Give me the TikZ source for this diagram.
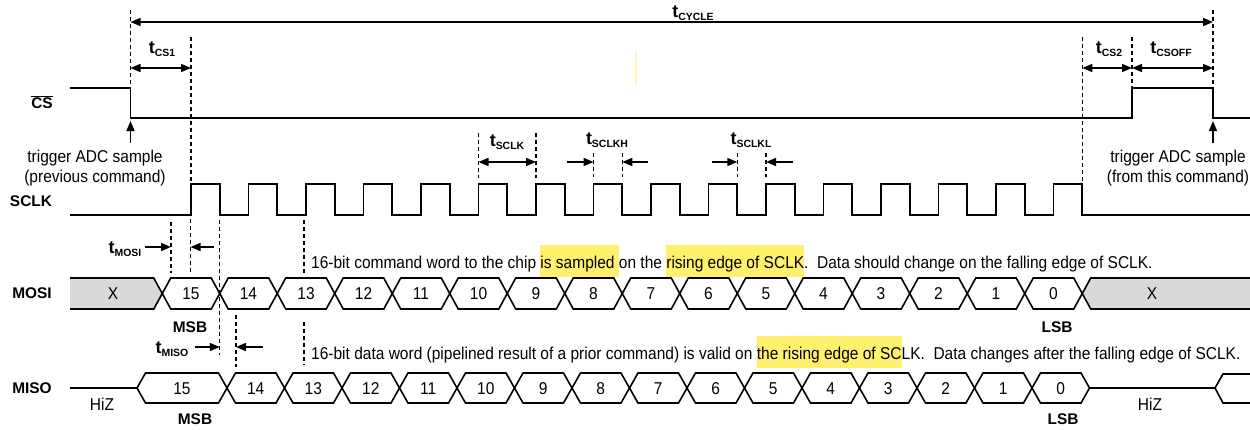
\documentclass[tikz,border=0pt]{standalone}
\usepackage{fontspec}
\setmainfont{Liberation Sans}
\newfontfamily\condf{Liberation Sans}[FakeStretch=0.905]
\usetikzlibrary{arrows.meta}
\definecolor{hly}{RGB}{255,240,110}
\definecolor{busgray}{RGB}{217,217,217}
\definecolor{faintyel}{RGB}{255,246,180}
\newcommand\hlt[1]{\setbox0=\hbox{#1}\rlap{\textcolor{hly}{\rule[-9bp]{\wd0}{32bp}}}\box0}
\newcommand\tlab[1]{\fontsize{18}{18}\selectfont\bfseries t\raisebox{-3.5bp}{\fontsize{10.5}{10.5}\selectfont #1}}
\begin{document}
\begin{tikzpicture}[x=1bp,y=-1bp,
  sig/.style={line width=1.8bp, line join=miter},
  bus/.style={line width=1.6bp, line join=miter},
  dsh/.style={dash pattern=on 4bp off 3bp, line width=1.2bp},
  tip/.style={line width=1.6bp},
  dim/.style={tip, {Triangle[length=10bp,width=8bp]}-{Triangle[length=10bp,width=8bp]}},
  arr/.style={tip, -{Triangle[length=10bp,width=8bp]}},
  txt/.style={font=\condf\fontsize{17.2}{20}\selectfont, inner sep=0},
  lbl/.style={font=\bfseries\fontsize{15.5}{18}\selectfont, inner sep=0},
  tl/.style={inner sep=0}]
\useasboundingbox (0,0) rectangle (1250,429);
\fill[white] (0,0) rectangle (1250,429);

% faint mark
\draw[faintyel, line width=1.2bp] (636,52) -- (636,84);

% ---- signal names
\node[lbl] (csname) at (42,102) {$\overline{\mbox{CS}}$};
\node[lbl] (sclkname) at (31,201) {SCLK};
\node[lbl] (mosiname) at (32,293) {MOSI};
\node[lbl] (misoname) at (32,388) {MISO};

% ---- CS
\draw[sig] (70,88) -- (130.5,88) -- (130.5,118) -- (1132,118) -- (1132,88) -- (1213,88) -- (1213,118) -- (1250,118);

% ---- SCLK
\draw[sig] (70,215)
  \foreach \k in {0,...,15} { -- ({191+57.5*\k},215) -- ({191+57.5*\k},184) -- ({219.75+57.5*\k},184) -- ({219.75+57.5*\k},215) }
  -- (1250,215);

% ---- dashed timing references
\draw[dsh] (130.5,10) -- (130.5,118);
\draw[dsh] (1213,10) -- (1213,88);
\draw[dsh] (191,37) -- (191,184);
\draw[dsh] (1082.25,37) -- (1082.25,184);
\draw[dsh] (1132,37) -- (1132,88);
\draw[dsh] (478.5,133) -- (478.5,178);
\draw[dsh] (536,133) -- (536,178);
\draw[dsh] (593.5,153) -- (593.5,177);
\draw[dsh] (622.25,153) -- (622.25,177);
\draw[dsh] (737.25,153) -- (737.25,177);
\draw[dsh] (766,153) -- (766,177);
\draw[dsh] (171,222) -- (171,273);
\draw[dsh] (190.5,219) -- (190.5,273);
\draw[dsh] (219.75,220) -- (219.75,355);
\draw[dsh] (236,315) -- (236,367);
\draw[dsh] (304,220) -- (304,273);
\draw[dsh] (304,322) -- (304,365);

% ---- timing dimension arrows
\coordinate (cyA) at (130.5,22); \coordinate (cyB) at (1213,22);
\draw[dim] (cyA) -- (cyB);
\node[tl] (tcycle) at (693,13) {\tlab{CYCLE}};
\coordinate (cs1A) at (130.5,68); \coordinate (cs1B) at (191,68);
\draw[dim] (cs1A) -- (cs1B);
\node[tl] (tcs1) at (162,49) {\tlab{CS1}};
\coordinate (cs2A) at (1082.25,68); \coordinate (cs2B) at (1132,68);
\draw[dim] (cs2A) -- (cs2B);
\node[tl] (tcs2) at (1109,49) {\tlab{CS2}};
\coordinate (csoA) at (1132,68); \coordinate (csoB) at (1213,68);
\draw[dim] (csoA) -- (csoB);
\node[tl] (tcsoff) at (1171,49) {\tlab{CSOFF}};

\coordinate (skA) at (478.5,162); \coordinate (skB) at (536,162);
\draw[dim] (skA) -- (skB);
\node[tl] (tsclk) at (507,142) {\tlab{SCLK}};
\coordinate (khA) at (567,162); \coordinate (khB) at (593.5,162);
\coordinate (khC) at (648,162); \coordinate (khD) at (622.25,162);
\draw[arr] (khA) -- (khB);
\draw[arr] (khC) -- (khD);
\node[tl] (tsclkh) at (607,140) {\tlab{SCLKH}};
\coordinate (klA) at (712,162); \coordinate (klB) at (737.25,162);
\coordinate (klC) at (793,162); \coordinate (klD) at (766,162);
\draw[arr] (klA) -- (klB);
\draw[arr] (klC) -- (klD);
\node[tl] (tsclkl) at (751,140) {\tlab{SCLKL}};

\coordinate (moA) at (145,247); \coordinate (moB) at (171,247);
\coordinate (moC) at (214,247); \coordinate (moD) at (190.5,247);
\draw[arr] (moA) -- (moB);
\draw[arr] (moC) -- (moD);
\node[tl] (tmosi) at (125,249) {\tlab{MOSI}};
\coordinate (miA) at (195,347); \coordinate (miB) at (219.75,347);
\coordinate (miC) at (263,347); \coordinate (miD) at (236,347);
\draw[arr] (miA) -- (miB);
\draw[arr] (miC) -- (miD);
\node[tl] (tmiso) at (172,349) {\tlab{MISO}};

% trigger arrows
\coordinate (trA) at (130.5,143); \coordinate (trB) at (130.5,121);
\draw[arr] (trA) -- (trB);
\coordinate (trC) at (1213,143); \coordinate (trD) at (1213,121);
\draw[arr] (trC) -- (trD);
\node[txt, align=center] (trig1) at (95,168) {trigger ADC sample\\(previous command)};
\node[txt, align=center] (trig2) at (1178,168) {trigger ADC sample\\(from this command)};

% ---- sentences
\node[txt, anchor=base west] (mositxt) at (311,268) {16-bit command word to the chip \hlt{is sampled }on the \hlt{rising edge of SCLK}.\ \ Data should change on the falling edge of SCLK.};
\node[txt, anchor=base west] (misotxt) at (311,359) {16-bit data word (pipelined result of a prior command) is valid on \hlt{the rising edge of SC}LK.\ \ Data changes after the falling edge of SCLK.};

% ---- MOSI bus
\fill[busgray] (70,278) -- (153.75,278) -- (162.25,293.5) -- (153.75,309) -- (70,309) -- cycle;
\draw[bus] (70,278) -- (153.75,278) -- (162.25,293.5) -- (153.75,309) -- (70,309);
\fill[busgray] (1250,278) -- (1090.75,278) -- (1082.25,293.5) -- (1090.75,309) -- (1250,309) -- cycle;
\draw[bus] (1250,278) -- (1090.75,278) -- (1082.25,293.5) -- (1090.75,309) -- (1250,309);
\node[txt] (mosiXa) at (113,294) {X};
\node[txt] (mosiXb) at (1152,294) {X};
\foreach \k in {0,...,15} {
  \pgfmathsetmacro\a{162.25+57.5*\k}
  \pgfmathsetmacro\b{\a+57.5}
  \pgfmathtruncatemacro\n{15-\k}
  \draw[bus] (\a,293.5) -- (\a+8.5,278) -- (\b-8.5,278) -- (\b,293.5) -- (\b-8.5,309) -- (\a+8.5,309) -- cycle;
  \node[txt] (mosi\n) at ({(\a+\b)/2},294) {\n};
}

% ---- MISO bus
\draw[bus] (70,388) -- (137,388);
\draw[bus] (137,388) -- (145.5,373) -- (218.5,373) -- (227,388) -- (218.5,403) -- (145.5,403) -- cycle;
\node[txt] (miso15) at (182,389) {15};
\foreach \k in {1,...,15} {
  \pgfmathsetmacro\a{227+57.5*(\k-1)}
  \pgfmathsetmacro\b{\a+57.5}
  \pgfmathtruncatemacro\n{15-\k}
  \draw[bus] (\a,388) -- (\a+8.5,373) -- (\b-8.5,373) -- (\b,388) -- (\b-8.5,403) -- (\a+8.5,403) -- cycle;
  \node[txt] (miso\n) at ({(\a+\b)/2},389) {\n};
}
\draw[bus] (1089.5,388) -- (1215,388);
\draw[bus] (1250,374) -- (1223,374) -- (1215,388) -- (1223,403) -- (1250,403);
\node[txt] (hiz1) at (102,404) {HiZ};
\node[txt] (hiz2) at (1150,404) {HiZ};

% ---- MSB / LSB
\node[lbl] (msb1) at (190,327) {MSB};
\node[lbl] (lsb1) at (1057,327) {LSB};
\node[lbl] (msb2) at (195,419) {MSB};
\node[lbl] (lsb2) at (1063,419) {LSB};
\end{tikzpicture}
\end{document}
